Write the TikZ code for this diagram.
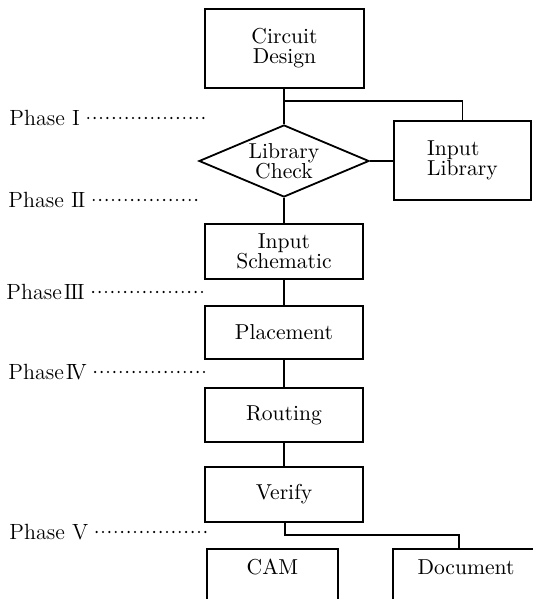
\documentclass[tikz,border=0pt]{standalone}
\usetikzlibrary{shapes.geometric}
\begin{document}
\begin{tikzpicture}[x=0.5pt,y=-0.5pt,
  box/.style={draw, line width=0.9pt, rectangle, inner sep=0pt, align=center,
    font=\fontsize{10.8}{10}\selectfont},
  lbl/.style={inner sep=0pt, align=center, font=\fontsize{10.8}{10}\selectfont},
  phase/.style={inner sep=0pt, anchor=west, font=\fontsize{11}{11}\selectfont},
  link/.style={line width=0.9pt},
  dots/.style={line width=1.2pt, line cap=round, dash pattern=on 0pt off 3.2pt}]
\clip (0,0) rectangle (533,599);
\fill[white] (0,0) rectangle (533,599);
% boxes
\node[box, minimum width=79.5pt, minimum height=39.5pt] (cd) at (284.5,48.5) {Circuit\\Design};
\node[draw, line width=0.9pt, diamond, inner sep=0pt, minimum width=85pt, minimum height=36pt] (chk) at (284,161) {};
\node[lbl] (chkt) at (284,161) {Library\\Check};
\node[box, minimum width=68.5pt, minimum height=39.5pt, align=left] (lib) at (462.5,160.5) {Input\\Library};
\node[box, minimum width=79pt, minimum height=27.5pt] (sch) at (284,251.5) {Input\\Schematic};
\node[box, minimum width=79pt, minimum height=26.5pt] (pl) at (284,332.5) {Placement};
\node[box, minimum width=79pt, minimum height=27pt] (rt) at (284,415) {Routing};
\node[box, minimum width=79pt, minimum height=27.5pt] (vf) at (284,494.5) {Verify};
\node[box, minimum width=65.5pt, minimum height=40pt, anchor=north] (cam) at (272.5,548) {};
\node[lbl] (camt) at (272.5,567) {CAM};
\node[box, minimum width=80pt, minimum height=40pt, anchor=north] (doc) at (473,548) {};
\node[lbl] (doct) at (466,567) {Document};
% connectors
\coordinate (j1) at (284,101);
\draw[link] (cd.south -| chk.north) -- (chk.north);
\draw[link] (j1) -| (lib.north);
\draw[link] (chk.east) -- (chk.east -| lib.west);
\draw[link] (chk.south) -- (sch.north);
\draw[link] (sch.south) -- (pl.north);
\draw[link] (pl.south) -- (rt.north);
\draw[link] (rt.south) -- (vf.north);
\coordinate (j2) at (285,535);
\coordinate (dtop) at (459,548);
\draw[link] (vf.south -| j2) -- (j2) -| (dtop);
% phases
\node[phase] (p1) at (9,118) {Phase I};
\node[phase] (p2) at (8,200) {Phase I\kern-0.6pt I};
\node[phase] (p3) at (6,292) {Phase\kern1pt I\kern-0.6pt I\kern-0.6pt I};
\node[phase] (p4) at (8,372) {Phase\kern1pt I\kern-1.5pt V};
\node[phase] (p5) at (9,532) {Phase V};
\coordinate (p1e) at (206,118);
\coordinate (p2e) at (200,200);
\coordinate (p3e) at (203,292);
\coordinate (p4e) at (205,372);
\coordinate (p5e) at (207,532);
\draw[dots] ([xshift=4pt]p1.east) -- (p1e);
\draw[dots] ([xshift=4pt]p2.east) -- (p2e);
\draw[dots] ([xshift=4pt]p3.east) -- (p3e);
\draw[dots] ([xshift=4pt]p4.east) -- (p4e);
\draw[dots] ([xshift=4pt]p5.east) -- (p5e);
\end{tikzpicture}
\end{document}
